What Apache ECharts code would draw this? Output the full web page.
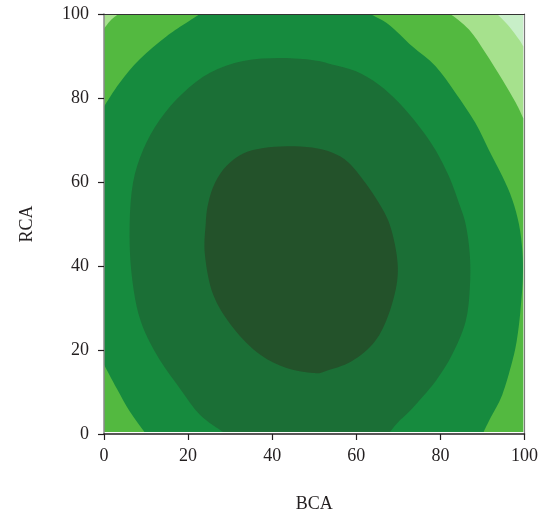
<!DOCTYPE html>
<html><head><meta charset="utf-8">
<script src="https://cdn.jsdelivr.net/npm/echarts@6/dist/echarts.min.js"></script>
<style>html,body{margin:0;padding:0;background:#fff}#c{width:541px;height:521px}</style>
</head><body><div id="c"></div>
<script>
// Axis ticks
const xTicks = [0, 20, 40, 60, 80, 100];
const yTicks = [0, 20, 40, 60, 80, 100];
const xName = 'BCA';
const yName = 'RCA';

// Contour band colours, lightest (outermost) to darkest (centre)
const bandColors = ['#c8efc8', '#a6e18d', '#53b940', '#168b3e', '#1b6f36', '#23522a'];

// Band regions as [BCA, RCA] outline points
const band0 = [[0,0.5],[0,100],[99.7,100],[99.7,0.5]];
const band1 = [[0,0.5],[0,100],[93.5,100],[96.3,97.1],[98.7,93.9],[99.7,92.3],[99.7,0.5]];
const band2 = [[0,0.5],[0,96.5],[1.5,98.4],[3.4,100],[82.4,100],[86.8,96.3],[90.7,90.8],
  [94.7,84.4],[97.9,78.9],[99.7,75.2],[99.7,0.5]];
const band3 = [[0,16.5],[0,78.0],[3.7,83.6],[8.5,89.2],[14.9,94.7],[22.8,100],[63.3,100],
  [67.7,97.5],[73.3,92.3],[78.8,87.6],[83.6,81.2],[88.3,74.1],[91.5,67.7],[94.7,61.4],
  [97.1,55.8],[98.7,49.9],[99.5,43.5],[99.6,37.0],[99.0,29.0],[98.2,22.5],[97.1,17.3],
  [94.7,9.3],[91.9,3.8],[90.3,0.5],[9.6,0.5],[6.1,5.4],[3.0,10.9]];
const band4 = [[28.3,0.5],[22.8,4.6],[18.0,10.9],[12.5,18.9],[8.5,27.6],[6.5,38.7],[6.1,49.9],
  [6.9,59.8],[9.3,67.7],[13.3,74.9],[18.8,81.2],[25.2,86.0],[33.1,88.8],[41.8,89.5],
  [49.8,89.0],[54.2,88.0],[59.8,86.4],[65.3,83.2],[70.1,78.9],[74.9,73.3],[78.8,67.7],
  [82.0,61.4],[84.4,55.0],[86.0,50.0],[87.0,42.7],[87.0,34.7],[86.0,26.8],[82.8,18.9],
  [78.8,12.5],[73.3,6.1],[70.1,3.0],[68.0,0.5]];
const band5 = [[24.2,50.2],[24.0,42.7],[26.0,33.1],[30.8,25.2],[37.1,18.9],[43.4,15.7],
  [49.8,14.5],[52.5,14.9],[58.9,17.3],[64.4,22.0],[67.7,28.5],[69.7,36.3],[69.6,42.7],
  [67.9,50.0],[65.3,55.1],[62.1,59.9],[58.2,64.6],[54.2,67.0],[49.5,68.2],[43.4,68.5],
  [37.9,68.1],[33.1,66.8],[29.1,63.8],[26.4,59.8],[24.8,55.0]];

const bands = [band0, band1, band2, band3, band4, band5];

const FONT = 'Liberation Serif';
const INK = '#231f20';

// which plot edges a data point lies on
function edges(p) {
  const e = [];
  if (p[0] <= 0.01) e.push('L');
  if (p[0] >= 99.69) e.push('R');
  if (p[1] <= 0.51) e.push('B');
  if (p[1] >= 99.99) e.push('T');
  return e;
}
function alongEdge(a, b) {
  const ea = edges(a), eb = edges(b);
  return ea.some(e => eb.indexOf(e) >= 0);
}

// Smooth closed outline: straight along plot edges, Catmull-Rom bezier elsewhere
function outlinePath(data, px) {
  const n = data.length;
  const f = v => v.toFixed(2);
  let d = 'M' + f(px[0][0]) + ' ' + f(px[0][1]);
  for (let i = 0; i < n; i++) {
    const i0 = (i - 1 + n) % n, i2 = (i + 1) % n, i3 = (i + 2) % n;
    const p1 = px[i], p2 = px[i2];
    if (alongEdge(data[i], data[i2])) { d += 'L' + f(p2[0]) + ' ' + f(p2[1]); continue; }
    const p0 = alongEdge(data[i0], data[i]) ? p1 : px[i0];
    const p3 = alongEdge(data[i2], data[i3]) ? p2 : px[i3];
    const c1 = [p1[0] + (p2[0] - p0[0]) / 6, p1[1] + (p2[1] - p0[1]) / 6];
    const c2 = [p2[0] - (p3[0] - p1[0]) / 6, p2[1] - (p3[1] - p1[1]) / 6];
    d += 'C' + f(c1[0]) + ' ' + f(c1[1]) + ' ' + f(c2[0]) + ' ' + f(c2[1]) + ' ' + f(p2[0]) + ' ' + f(p2[1]);
  }
  return d + 'Z';
}

function bandSeries(points, color) {
  return {
    type: 'custom',
    coordinateSystem: 'cartesian2d',
    xAxisIndex: 0, yAxisIndex: 0,
    clip: true,
    silent: true,
    animation: false,
    data: points,
    encode: { x: 0, y: 1 },
    renderItem: function (params, api) {
      if (params.dataIndex !== 0) return null;
      const px = points.map(p => api.coord(p));
      return { type: 'path', shape: { pathData: outlinePath(points, px) }, style: { fill: color, stroke: null } };
    }
  };
}

const chart = echarts.init(document.getElementById('c'), null, { renderer: 'canvas' });
const labelStyle = { fontFamily: FONT, fontSize: 18, color: INK };
chart.setOption({
  animation: false,
  backgroundColor: '#ffffff',
  grid: { left: 104, right: 16, top: 14, bottom: 87, containLabel: false },
  xAxis: [{
    type: 'value', position: 'bottom', min: xTicks[0], max: xTicks[xTicks.length - 1], interval: xTicks[1] - xTicks[0],
    z: 10,
    axisLine: { show: true, onZero: false, lineStyle: { color: INK, width: 1.5 } },
    axisTick: { show: true, length: 6, lineStyle: { color: INK, width: 1.2 } },
    axisLabel: Object.assign({ margin: 13 }, labelStyle),
    splitLine: { show: false },
    name: xName, nameLocation: 'middle', nameGap: 61,
    nameTextStyle: { fontFamily: FONT, fontSize: 18, color: INK }
  }, {
    type: 'value', position: 'top', min: 0, max: 100, z: 10,
    axisLine: { show: true, onZero: false, lineStyle: { color: '#333333', width: 1.2 } },
    axisTick: { show: false }, axisLabel: { show: false }, splitLine: { show: false }
  }],
  yAxis: [{
    type: 'value', position: 'left', min: yTicks[0], max: yTicks[yTicks.length - 1], interval: yTicks[1] - yTicks[0],
    z: 10,
    axisLine: { show: true, onZero: false, lineStyle: { color: '#8a8a8a', width: 1.5 } },
    axisTick: { show: true, length: 6, lineStyle: { color: INK, width: 1.2 } },
    axisLabel: Object.assign({ margin: 15 }, labelStyle),
    splitLine: { show: false },
    name: yName, nameLocation: 'middle', nameGap: 68,
    nameTextStyle: { fontFamily: FONT, fontSize: 18, color: INK }
  }, {
    type: 'value', position: 'right', min: 0, max: 100, z: 10,
    axisLine: { show: true, onZero: false, lineStyle: { color: '#7a7a7a', width: 1.2 } },
    axisTick: { show: false }, axisLabel: { show: false }, splitLine: { show: false }
  }],
  series: bands.map((b, i) => bandSeries(b, bandColors[i]))
});
</script>
</body></html>
